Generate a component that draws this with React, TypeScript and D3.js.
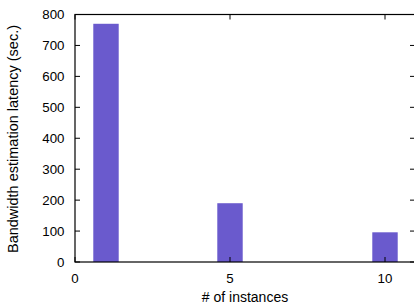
import React, { useEffect, useRef } from 'react';
import * as d3 from 'd3';

const instances = [1, 5, 10];
const latency = [770, 190, 96];
const xTicks = [0, 5, 10];
const yTicks = [0, 100, 200, 300, 400, 500, 600, 700, 800];

const App = () => {
    const ref = useRef<SVGSVGElement>(null);

    useEffect(() => {
        const svg = d3.select(ref.current);
        svg.selectAll("*").remove();

        const left = 75, right = 416, top = 14.5, bottom = 262;
        const font = "'Liberation Sans', Arial, sans-serif";

        const x = d3.scaleLinear().domain([0, 11]).range([left, right]);
        const y = d3.scaleLinear().domain([0, 800]).range([bottom, top]);

        const data = instances.map((n, i) => ({ n, v: latency[i] }));
        const barW = x(0.82) - x(0);

        svg.selectAll(".bar")
            .data(data)
            .enter()
            .append("rect")
            .attr("x", d => x(d.n) - barW / 2)
            .attr("y", d => y(d.v))
            .attr("width", barW)
            .attr("height", d => bottom - y(d.v))
            .attr("fill", "#6a5acd");

        // frame
        svg.append("rect")
            .attr("x", left)
            .attr("y", top)
            .attr("width", right - left)
            .attr("height", bottom - top)
            .attr("fill", "none")
            .attr("stroke", "#000")
            .attr("stroke-width", 1.2);

        const tick = 5;
        yTicks.forEach(t => {
            svg.append("line").attr("x1", left).attr("x2", left + tick)
                .attr("y1", y(t)).attr("y2", y(t)).attr("stroke", "#000");
            svg.append("line").attr("x1", right - tick - 1).attr("x2", right)
                .attr("y1", y(t)).attr("y2", y(t)).attr("stroke", "#000");
            svg.append("text")
                .attr("x", left - 10.5)
                .attr("y", y(t))
                .attr("dy", "0.36em")
                .attr("text-anchor", "end")
                .attr("font-family", font)
                .attr("font-size", 13.3)
                .text(t);
        });

        xTicks.forEach(t => {
            svg.append("line").attr("x1", x(t)).attr("x2", x(t))
                .attr("y1", bottom).attr("y2", bottom - tick).attr("stroke", "#000");
            svg.append("line").attr("x1", x(t)).attr("x2", x(t))
                .attr("y1", top).attr("y2", top + tick).attr("stroke", "#000");
            svg.append("text")
                .attr("x", x(t))
                .attr("y", 278)
                .attr("dy", "0.36em")
                .attr("text-anchor", "middle")
                .attr("font-family", font)
                .attr("font-size", 13.3)
                .text(t);
        });

        svg.append("text")
            .attr("x", 245)
            .attr("y", 297)
            .attr("dy", "0.36em")
            .attr("text-anchor", "middle")
            .attr("font-family", font)
            .attr("font-size", 14)
            .text("# of instances");

        svg.append("text")
            .attr("transform", `translate(13, 139) rotate(-90)`)
            .attr("dy", "0.36em")
            .attr("text-anchor", "middle")
            .attr("font-family", font)
            .attr("font-size", 14.5)
            .text("Bandwidth estimation latency (sec.)");
    }, []);

    return (
        <svg ref={ref} width={414} height={308}
            style={{ position: "absolute", left: 0, top: 0, background: "#fff" }} />
    );
};

export default App;
